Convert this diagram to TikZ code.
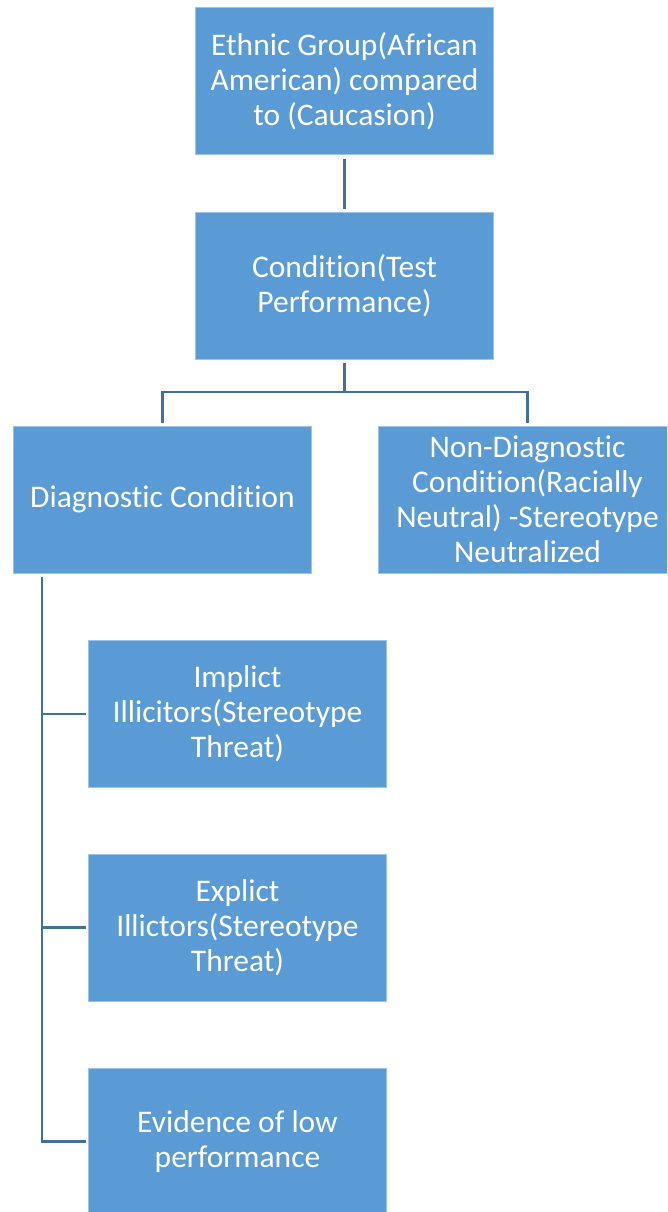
\documentclass[tikz,border=0pt]{standalone}
\usepackage{fontspec}
\setmainfont{Carlito}[RawFeature={-liga;-clig}]
\definecolor{boxfill}{HTML}{5B9BD5}
\definecolor{boxedge}{HTML}{9EC3E6}
\definecolor{linecol}{HTML}{41719C}
\begin{document}
\begin{tikzpicture}[x=1pt,y=-1pt,
  box/.style={rectangle, fill=boxfill, draw=boxedge, line width=0.8pt,
    minimum width=298pt, minimum height=147pt, inner sep=0pt,
    text=white, align=center, font=\fontsize{31.5}{35}\selectfont},
  conn/.style={draw=linecol, line width=2.4pt}]
\useasboundingbox (0,0) rectangle (667,1212);
\clip (0,0) rectangle (667,1212);
\fill[white] (0,0) rectangle (667,1212);
\node[box] (top) at (344.5,81.25) {Ethnic Group(African\\American) compared\\to (Caucasion)};
\node[box] (cond) at (344.5,285.5) {Condition(Test\\Performance)};
\node[box] (diag) at (162.5,499.5) {Diagnostic Condition};
\node[box] (nd) at (527.5,499.5) {Non-Diagnostic\\Condition(Racially\\Neutral) -Stereotype\\Neutralized};
\node[box] (impl) at (237.5,713.75) {Implict\\Illicitors(Stereotype\\Threat)};
\node[box] (expl) at (237.5,927.5) {Explict\\Illictors(Stereotype\\Threat)};
\node[box] (evid) at (237.5,1141.5) {Evidence of low\\performance};
\coordinate (cj) at (344.5,392);
\coordinate (trunk) at (42,577);
\draw[conn] ([yshift=-4pt]top.south) -- ([yshift=3pt]cond.north);
\draw[conn] ([yshift=-4pt]cond.south) -- (cj);
\draw[conn] ([yshift=3pt]diag.north) |- (cj) -| ([yshift=3pt]nd.north);
\draw[conn] (trunk) |- ([xshift=-2pt]evid.west);
\draw[conn] (trunk |- impl.west) -- ([xshift=-2pt]impl.west);
\draw[conn] (trunk |- expl.west) -- ([xshift=-2pt]expl.west);
\end{tikzpicture}
\end{document}
